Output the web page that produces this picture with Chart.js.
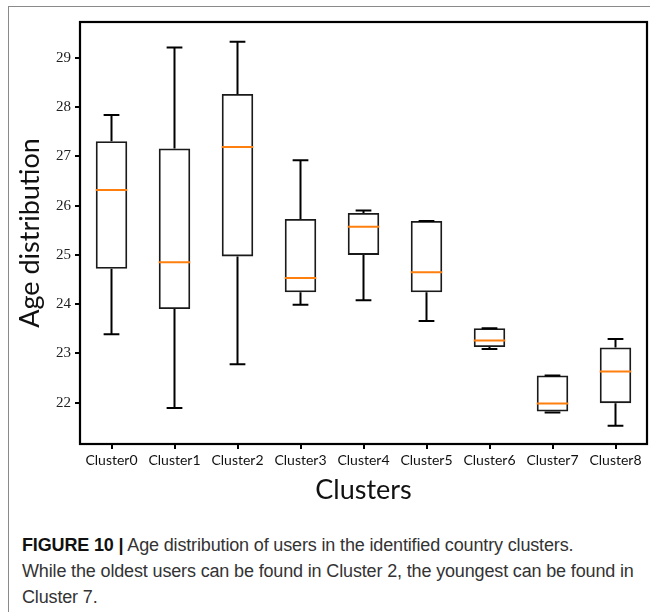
<!DOCTYPE html>
<html>
<head>
<meta charset="utf-8">
<script src="https://cdn.jsdelivr.net/npm/chart.js@4.4.1/dist/chart.umd.min.js"></script>
<style>
  html, body { margin:0; padding:0; background:#fff; }
  #wrap { position:relative; width:650px; height:612px; overflow:hidden; }
  #frame { position:absolute; left:8px; top:6px; width:660px; height:620px;
           border-left:1.5px solid #8a8a8a; border-top:1.5px solid #8a8a8a; }
  #box { position:absolute; left:0; top:0; width:650px; height:510px; }
  #caption { position:absolute; left:22px; top:532px; width:625px;
             font-family:"Liberation Sans", Arial, sans-serif; font-size:18px;
             line-height:26px; color:#333; letter-spacing:-0.15px; }
  #caption b { color:#111; }
</style>
</head>
<body>
<div id="wrap">
  <div id="frame"></div>
  <div id="box"><canvas id="c"></canvas></div>
  <div id="caption"><b>FIGURE 10 |</b> Age distribution of users in the identified country clusters.<br>While the oldest users can be found in Cluster 2, the youngest can be found in<br>Cluster 7.</div>
</div>
<script>
/* box plot values */
const clusters = ['Cluster0','Cluster1','Cluster2','Cluster3','Cluster4','Cluster5','Cluster6','Cluster7','Cluster8'];
const whiskerLow  = [23.39, 21.89, 22.78, 23.99, 24.08, 23.66, 23.09, 21.80, 21.53];
const q1          = [24.72, 23.90, 24.97, 24.24, 25.00, 24.24, 23.13, 21.82, 21.99];
const median      = [26.32, 24.85, 27.19, 24.53, 25.57, 24.65, 23.26, 21.98, 22.63];
const q3          = [27.31, 27.16, 28.27, 25.73, 25.85, 25.69, 23.51, 22.55, 23.12];
const whiskerHigh = [27.84, 29.21, 29.33, 26.92, 25.90, 25.69, 23.51, 22.55, 23.29];
const yTicks = [22, 23, 24, 25, 26, 27, 28, 29];

const serif = '"Liberation Serif", "DejaVu Serif", serif';
const sans = 'Lato, "Open Sans", sans-serif';

// whiskers, caps, medians and the frame, drawn with the chart's own scales
const boxExtras = {
  id: 'boxExtras',
  afterDatasetsDraw(chart){
    const { ctx, scales:{ x, y }, chartArea:a } = chart;
    const meta = chart.getDatasetMeta(0);
    ctx.save();
    meta.data.forEach((bar, i) => {
      const cx = x.getPixelForValue(i);
      const half = bar.width / 2;
      const cap = half / 2;
      ctx.strokeStyle = '#000';
      ctx.lineWidth = 2;
      ctx.beginPath();
      ctx.moveTo(cx, y.getPixelForValue(q3[i]));
      ctx.lineTo(cx, y.getPixelForValue(whiskerHigh[i]));
      ctx.moveTo(cx, y.getPixelForValue(q1[i]));
      ctx.lineTo(cx, y.getPixelForValue(whiskerLow[i]));
      ctx.moveTo(cx - cap, y.getPixelForValue(whiskerHigh[i]));
      ctx.lineTo(cx + cap, y.getPixelForValue(whiskerHigh[i]));
      ctx.moveTo(cx - cap, y.getPixelForValue(whiskerLow[i]));
      ctx.lineTo(cx + cap, y.getPixelForValue(whiskerLow[i]));
      ctx.stroke();
      ctx.strokeStyle = '#ff7f0e';
      ctx.lineWidth = 2;
      ctx.beginPath();
      ctx.moveTo(cx - half, y.getPixelForValue(median[i]));
      ctx.lineTo(cx + half, y.getPixelForValue(median[i]));
      ctx.stroke();
    });
    ctx.strokeStyle = '#000';
    ctx.lineWidth = 2.2;
    ctx.strokeRect(a.left, a.top, a.right - a.left, a.bottom - a.top);
    ctx.restore();
  }
};

new Chart(document.getElementById('c').getContext('2d'), {
  type: 'bar',
  data: {
    labels: clusters,
    datasets: [{
      data: q1.map((v, i) => [v, q3[i]]),
      backgroundColor: 'rgba(255,255,255,0)',
      borderColor: '#1a1a1a',
      borderWidth: 1.8,
      borderSkipped: false,
      barPercentage: 0.5,
      categoryPercentage: 1.0
    }]
  },
  options: {
    responsive: true,
    maintainAspectRatio: false,
    animation: false,
    devicePixelRatio: 1,
    layout: { padding: { top: 22, right: 3, left: 0, bottom: 0 } },
    scales: {
      x: {
        offset: true,
        grid: { display: true, offset: false, drawOnChartArea: false, drawTicks: true, tickLength: 5, color: '#000', lineWidth: 2 },
        border: { display: false },
        ticks: { color: '#111', padding: 3, font: { family: sans, size: 14 }, maxRotation: 0 },
        title: { display: true, text: 'Clusters', color: '#111', font: { family: sans, size: 27 }, padding: { top: 0 } },
        afterFit: s => { s.height = 66; }
      },
      y: {
        min: 21.16, max: 29.73,
        afterBuildTicks: s => { s.ticks = yTicks.map(v => ({ value: v })); },
        grid: { display: true, drawOnChartArea: false, drawTicks: true, tickLength: 5, color: '#000', lineWidth: 2 },
        border: { display: false },
        ticks: { color: '#222', padding: 4, font: { family: serif, size: 15 } },
        title: { display: true, text: 'Age distribution', color: '#111', font: { family: sans, size: 27 }, padding: { top: 14, bottom: 0 } },
        afterFit: s => { s.width = 80; }
      }
    },
    plugins: { legend: { display: false }, tooltip: { enabled: false } }
  },
  plugins: [boxExtras]
});
</script>
</body>
</html>
